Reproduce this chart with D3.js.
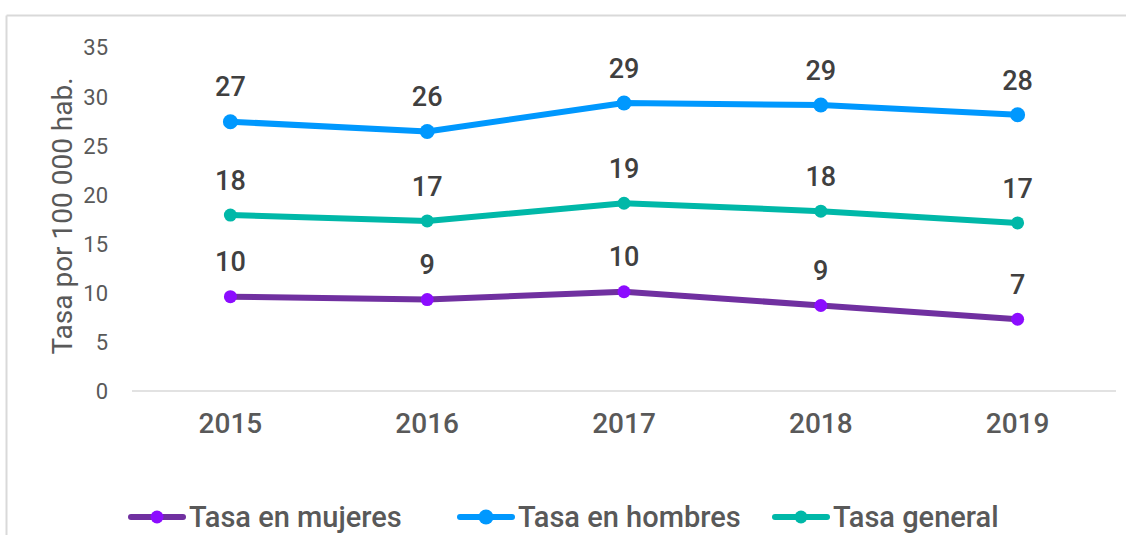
<!DOCTYPE html>
<html><head><meta charset="utf-8">
<script src="https://cdn.jsdelivr.net/npm/d3@7/dist/d3.min.js"></script>
<style>
html,body{margin:0;padding:0;background:#fff;}
svg{display:block;font-family:Roboto,"Open Sans",sans-serif;}
</style></head>
<body><svg id="c" width="1126" height="535"></svg>
<script>
const years = ["2015","2016","2017","2018","2019"];
const seriesNames = ["Tasa en mujeres","Tasa en hombres","Tasa general"];
const mujeres = [9.6, 9.3, 10.1, 8.7, 7.3];
const hombres = [27.4, 26.4, 29.3, 29.1, 28.1];
const general = [17.9, 17.3, 19.1, 18.3, 17.1];
const mujeresLabels = ["10","9","10","9","7"];
const hombresLabels = ["27","26","29","29","28"];
const generalLabels = ["18","17","19","18","17"];
const yTicks = [0,5,10,15,20,25,30,35];
const yTitle = "Tasa por 100 000 hab.";

const svg = d3.select("#c");
// frame
svg.append("line").attr("x1",6.5).attr("x2",6.5).attr("y1",15.5).attr("y2",535).attr("stroke","#d9d9d9").attr("stroke-width",2);
svg.append("line").attr("x1",6.5).attr("x2",1126).attr("y1",15.5).attr("y2",15.5).attr("stroke","#d9d9d9").attr("stroke-width",2);

const x = d3.scaleBand().domain(years).range([132,1116]);
const y = d3.scaleLinear().domain([0,35]).range([391,47]);
const cx = d => x(d) + x.bandwidth()/2;

// baseline
svg.append("line").attr("x1",132).attr("x2",1116).attr("y1",y(0)).attr("y2",y(0)).attr("stroke","#d9d9d9").attr("stroke-width",1.5);

// y axis
const yAxis = d3.axisLeft(y).tickValues(yTicks).tickSize(0).tickPadding(0);
const ga = svg.append("g").attr("transform","translate(108,0)").call(yAxis);
ga.select(".domain").remove();
ga.selectAll("text").attr("font-size",22).attr("fill","#595959").attr("font-family","Roboto").attr("dy","0.36em");

// x axis
const xAxis = d3.axisBottom(x).tickSize(0).tickPadding(0);
const gx = svg.append("g").attr("transform","translate(0,423)").call(xAxis);
gx.select(".domain").remove();
gx.selectAll("text").attr("font-size",28).attr("font-weight",500).attr("fill","#595959").attr("font-family","Roboto").attr("dy","0.36em");

// y title
svg.append("text").attr("transform","translate(62,216) rotate(-90)")
  .attr("text-anchor","middle").attr("dominant-baseline","central")
  .attr("font-size",28).attr("fill","#595959").text(yTitle);

const series = [
  {name:seriesNames[0], vals:mujeres, labels:mujeresLabels, line:"#7030a0", dot:"#8c0cff", r:6.5},
  {name:seriesNames[1], vals:hombres, labels:hombresLabels, line:"#0098fe", dot:"#0098fe", r:7.5},
  {name:seriesNames[2], vals:general, labels:generalLabels, line:"#00b8a8", dot:"#00b8a8", r:6.5}
];

const lineGen = d3.line().x((d,i)=>cx(years[i])).y(d=>y(d));
series.forEach(s=>{
  svg.append("path").attr("d",lineGen(s.vals)).attr("fill","none")
    .attr("stroke",s.line).attr("stroke-width",6).attr("stroke-linejoin","round");
  svg.selectAll(null).data(s.vals).enter().append("circle")
    .attr("cx",(d,i)=>cx(years[i])).attr("cy",d=>y(d)).attr("r",s.r).attr("fill",s.dot);
  svg.selectAll(null).data(s.vals).enter().append("text")
    .attr("x",(d,i)=>cx(years[i])).attr("y",d=>y(d)-35)
    .attr("text-anchor","middle").attr("dy","0.36em")
    .attr("font-size",27).attr("font-weight",500).attr("fill","#404040").text((d,i)=>s.labels[i]);
});

// legend
const legX = [128, 457, 772];
const legY = 517;
series.forEach((s,i)=>{
  const g = svg.append("g").attr("transform",`translate(${legX[i]},${legY})`);
  g.append("line").attr("x1",3).attr("x2",55).attr("y1",0).attr("y2",0)
    .attr("stroke",s.line).attr("stroke-width",6).attr("stroke-linecap","round");
  g.append("circle").attr("cx",29).attr("cy",0).attr("r",s.r).attr("fill",s.dot);
  g.append("text").attr("x",61).attr("y",0).attr("dy","0.36em")
    .attr("font-size",29).attr("font-weight",500).attr("fill","#595959").text(s.name);
});
</script></body></html>
